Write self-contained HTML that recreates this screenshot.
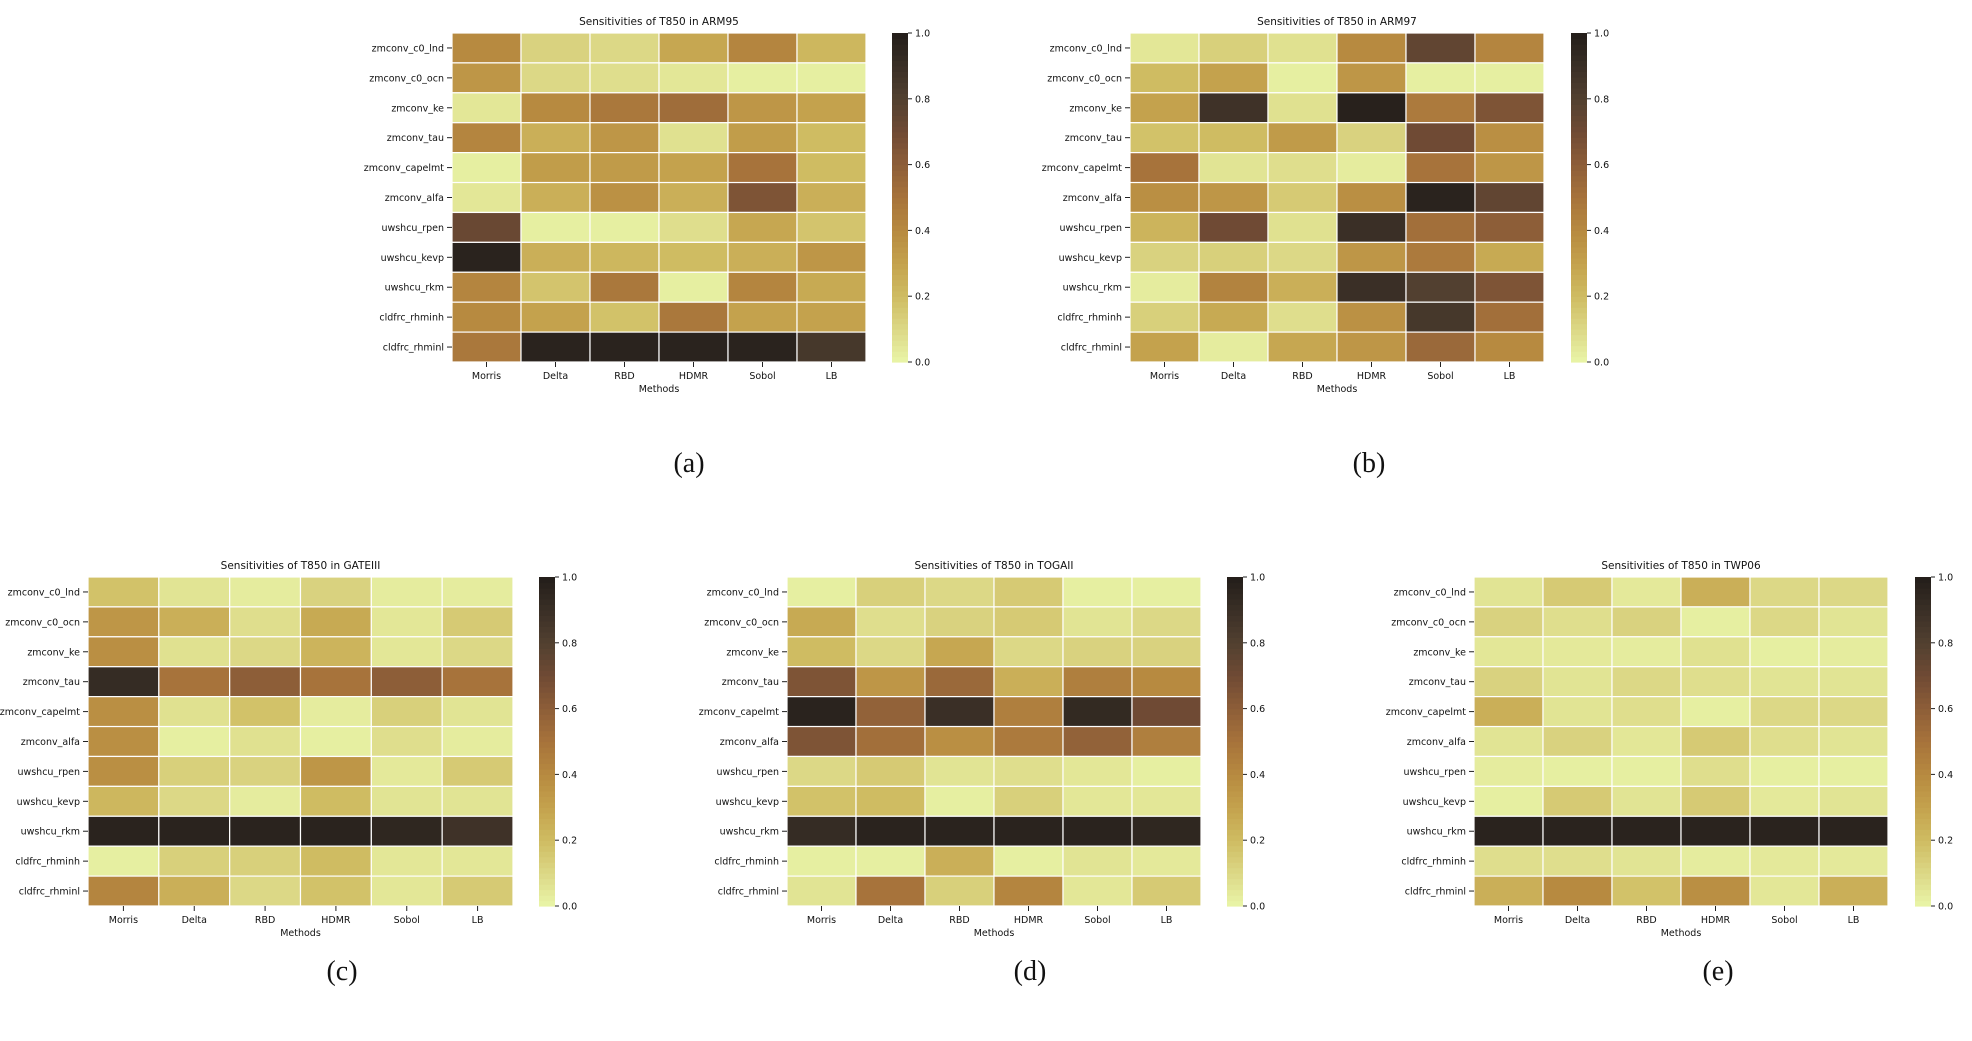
<!DOCTYPE html>
<html><head><meta charset="utf-8"><style>
html,body{margin:0;padding:0;background:#fff;}
svg{display:block;}
</style></head><body>
<svg id="fig" width="1972" height="1041" xmlns="http://www.w3.org/2000/svg" font-family="DejaVu Sans, Liberation Sans, sans-serif"></svg>
<script>
const params = ["zmconv_c0_lnd","zmconv_c0_ocn","zmconv_ke","zmconv_tau","zmconv_capelmt","zmconv_alfa","uwshcu_rpen","uwshcu_kevp","uwshcu_rkm","cldfrc_rhminh","cldfrc_rhminl"];
const methods = ["Morris","Delta","RBD","HDMR","Sobol","LB"];
const cbTicks = [0,0.2,0.4,0.6,0.8,1.0];
const valsARM95 = [
[0.4,0.12,0.1,0.28,0.42,0.22],[0.35,0.1,0.08,0.05,0.02,0.02],[0.05,0.4,0.48,0.53,0.35,0.3],
[0.42,0.25,0.35,0.07,0.32,0.2],[0.02,0.32,0.33,0.3,0.5,0.2],[0.05,0.25,0.37,0.25,0.65,0.25],
[0.72,0.02,0.02,0.08,0.28,0.17],[0.97,0.25,0.22,0.2,0.25,0.35],[0.42,0.17,0.48,0.02,0.42,0.27],
[0.4,0.3,0.18,0.48,0.3,0.3],[0.48,0.97,0.97,0.97,0.97,0.85]];
const valsARM97 = [
[0.05,0.13,0.07,0.4,0.75,0.42],[0.2,0.3,0.02,0.35,0.02,0.02],[0.3,0.88,0.07,0.98,0.47,0.65],
[0.18,0.2,0.33,0.12,0.7,0.38],[0.5,0.06,0.08,0.03,0.5,0.35],[0.38,0.35,0.15,0.38,0.97,0.75],
[0.23,0.7,0.07,0.9,0.52,0.6],[0.12,0.13,0.1,0.35,0.47,0.27],[0.03,0.43,0.25,0.9,0.8,0.65],
[0.13,0.27,0.08,0.37,0.85,0.52],[0.3,0.03,0.28,0.35,0.55,0.4]];
const valsGATEIII = [
[0.18,0.06,0.03,0.12,0.03,0.03],[0.35,0.25,0.08,0.27,0.05,0.15],[0.38,0.07,0.1,0.23,0.05,0.1],
[0.92,0.5,0.6,0.5,0.6,0.5],[0.38,0.07,0.18,0.03,0.13,0.06],[0.38,0.02,0.07,0.02,0.08,0.03],
[0.38,0.13,0.12,0.35,0.04,0.15],[0.22,0.1,0.03,0.2,0.06,0.06],[0.97,0.97,0.97,0.97,0.95,0.88],
[0.02,0.13,0.13,0.2,0.05,0.05],[0.42,0.25,0.1,0.18,0.05,0.15]];
const valsTOGAII = [
[0.02,0.13,0.1,0.15,0.02,0.02],[0.27,0.08,0.12,0.15,0.06,0.1],[0.2,0.1,0.28,0.1,0.12,0.12],
[0.65,0.35,0.55,0.25,0.45,0.4],[0.97,0.58,0.9,0.45,0.93,0.7],[0.65,0.52,0.38,0.47,0.58,0.45],
[0.1,0.15,0.06,0.08,0.05,0.02],[0.18,0.2,0.02,0.13,0.05,0.05],[0.92,0.97,0.97,0.97,0.97,0.95],
[0.02,0.02,0.25,0.02,0.06,0.04],[0.06,0.5,0.13,0.42,0.05,0.15]];
const valsTWP06 = [
[0.06,0.15,0.04,0.25,0.1,0.1],[0.12,0.08,0.12,0.02,0.1,0.06],[0.05,0.04,0.03,0.07,0.02,0.03],
[0.12,0.06,0.1,0.08,0.06,0.06],[0.25,0.06,0.08,0.02,0.1,0.1],[0.06,0.12,0.05,0.15,0.08,0.06],
[0.03,0.02,0.02,0.08,0.02,0.02],[0.02,0.15,0.06,0.15,0.04,0.06],[0.97,0.97,0.97,0.97,0.97,0.97],
[0.08,0.08,0.06,0.03,0.04,0.04],[0.25,0.4,0.18,0.38,0.05,0.25]];

const stops = ["#e9f5a8","#dcd886","#cfbc62","#c4a24d","#b78a40","#a7733b","#8d5e38","#6f4a34","#524030","#3a2f26","#231e1a"];
function hex(c){return [1,3,5].map(i=>parseInt(c.substr(i,2),16));}
function cmap(v){
  v=Math.max(0,Math.min(1,v));const p=v*10;const i=Math.min(9,Math.floor(p));const t=p-i;
  const a=hex(stops[i]),b=hex(stops[i+1]);
  return "rgb("+a.map((x,k)=>Math.round(x+(b[k]-x)*t)).join(",")+")";
}
const NS="http://www.w3.org/2000/svg";
const svg=document.getElementById("fig");
function mk(tag,attrs,parent){const e=document.createElementNS(NS,tag);for(const k in attrs)e.setAttribute(k,attrs[k]);(parent||svg).appendChild(e);return e;}

const panels=[
 {key:"arm95",title:"Sensitivities of T850 in ARM95",vals:valsARM95,x0:452,y0:33,w:414,cb:892,cap:"(a)",capx:689,capy:472},
 {key:"arm97",title:"Sensitivities of T850 in ARM97",vals:valsARM97,x0:1130,y0:33,w:414,cb:1571,cap:"(b)",capx:1369,capy:472},
 {key:"gateiii",title:"Sensitivities of T850 in GATEIII",vals:valsGATEIII,x0:88,y0:577,w:425,cb:539,cap:"(c)",capx:342,capy:980},
 {key:"togaii",title:"Sensitivities of T850 in TOGAII",vals:valsTOGAII,x0:787,y0:577,w:414,cb:1227,cap:"(d)",capx:1030,capy:980},
 {key:"twp06",title:"Sensitivities of T850 in TWP06",vals:valsTWP06,x0:1474,y0:577,w:414,cb:1915,cap:"(e)",capx:1718,capy:980}
];
const H=329,CBW=16;
panels.forEach(p=>{
  const W=p.w;
  const g=mk("g",{});
  
  
  const xs=c=>p.x0+c*W/methods.length;
  const ys=r=>p.y0+r*H/params.length;
  const vs=v=>p.y0+H-v*H;
  const t=mk("text",{x:p.x0+W/2,y:p.y0-8,"text-anchor":"middle","font-size":"10.5",fill:"#111"},g);
  t.textContent=p.title;
  
  
  p.vals.forEach((row,r)=>row.forEach((v,c)=>{
    const rc=mk("rect",{x:xs(c),y:ys(r),width:W/methods.length,height:H/params.length,fill:cmap(v),stroke:"#fff","stroke-width":1.2},g);
    
    
  }));
  params.forEach((n,r)=>{
    const yc=ys(r)+H/params.length/2;
    mk("line",{x1:p.x0-5,x2:p.x0,y1:yc,y2:yc,stroke:"#222","stroke-width":1},g);
    const l=mk("text",{x:p.x0-8,y:yc+3.5,"text-anchor":"end","font-size":"9.5",fill:"#111"},g);
    l.textContent=n;
    
    
  });
  methods.forEach((m,c)=>{
    const xc=xs(c)+W/methods.length/2;
    mk("line",{x1:xc,x2:xc,y1:p.y0+H,y2:p.y0+H+5,stroke:"#222","stroke-width":1},g);
    const l=mk("text",{x:xc,y:p.y0+H+17,"text-anchor":"middle","font-size":"9.5",fill:"#111"},g);
    l.textContent=m;
    
    
  });
  const xl=mk("text",{x:p.x0+W/2,y:p.y0+H+30,"text-anchor":"middle","font-size":"9.5",fill:"#111"},g);
  xl.textContent="Methods";
  
  
  const N=60;
  for(let i=0;i<N;i++){
    const cr=mk("rect",{x:p.cb,y:vs((i+1)/N),width:CBW,height:H/N+0.6,fill:cmap((i+0.5)/N)},g);
    
    
  }
  cbTicks.forEach(tv=>{
    const y=vs(tv);
    mk("line",{x1:p.cb+CBW,x2:p.cb+CBW+4,y1:y,y2:y,stroke:"#222","stroke-width":1},g);
    const l=mk("text",{x:p.cb+CBW+7,y:y+3.5,"font-size":"9.5",fill:"#111"},g);
    l.textContent=tv.toFixed(1);
    
    
  });
  const cap=mk("text",{x:p.capx,y:p.capy,"text-anchor":"middle","font-size":"28","font-family":"Liberation Serif, serif",fill:"#111"},g);
  cap.textContent=p.cap;
  
  
});
</script>
</body></html>
